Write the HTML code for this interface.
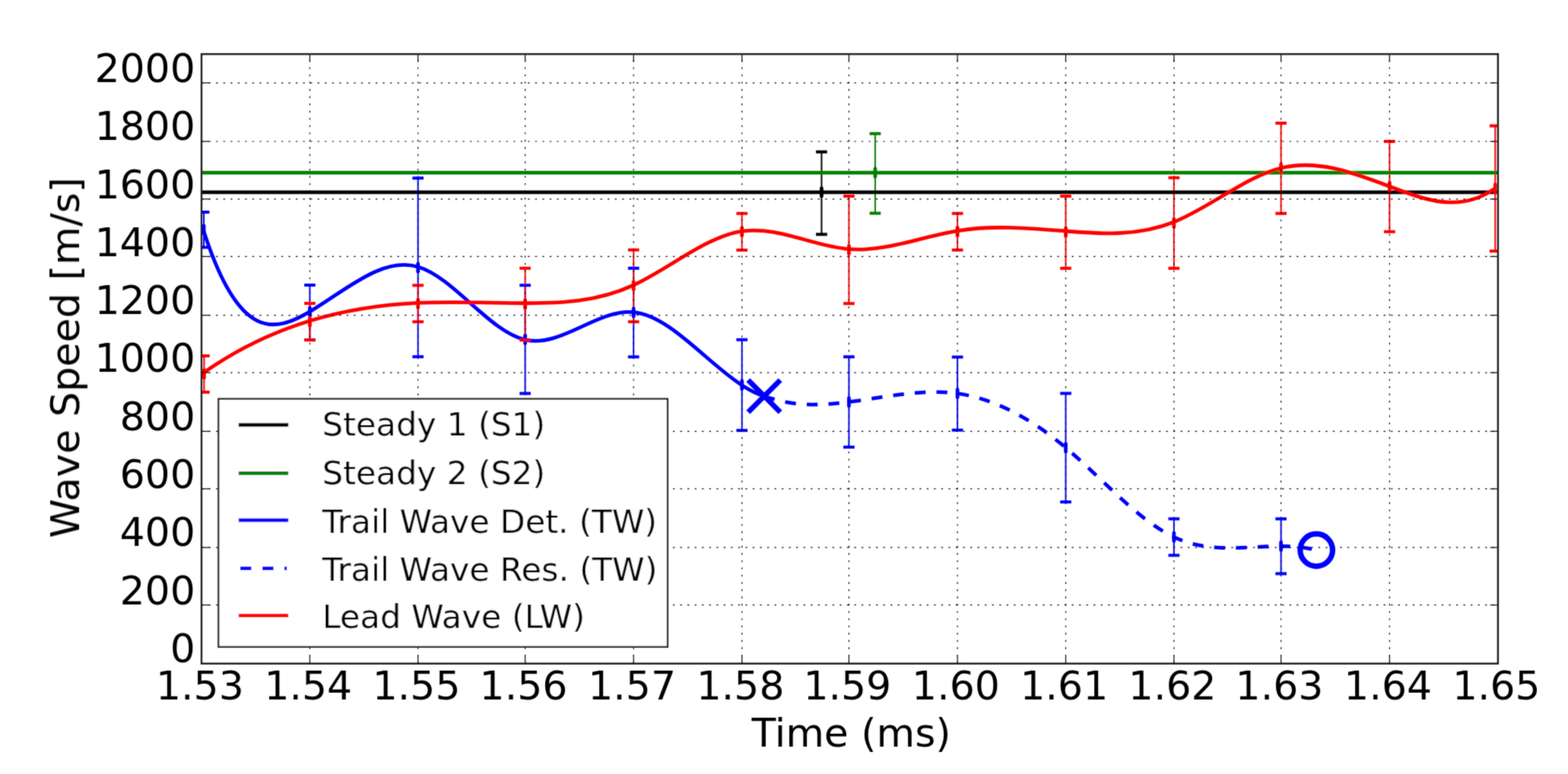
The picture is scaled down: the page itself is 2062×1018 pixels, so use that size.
<!DOCTYPE html><html><head><meta charset="utf-8"><style>html,body{margin:0;padding:0;background:#fff;}svg{display:block;}</style></head><body>
<svg width="2062" height="1018" viewBox="0 0 2062 1018">
<rect width="2062" height="1018" fill="#fff"/>
<defs><clipPath id="ax"><rect x="265.0" y="71.15" width="1704.90" height="801.65"/></clipPath><filter id="soft" x="0" y="0" width="2062" height="1018" filterUnits="userSpaceOnUse"><feConvolveMatrix order="3" kernelMatrix="0.02768 0.11101 0.02768 0.11101 0.44521 0.11101 0.02768 0.11101 0.02768" divisor="1" edgeMode="duplicate"/></filter></defs>
<g filter="url(#soft)">
<g clip-path="url(#ax)" fill="none" stroke-linejoin="round">
<line x1="1080.4" y1="199.8" x2="1080.4" y2="308.3" stroke="#000" stroke-width="2.0"/>
<line x1="1150.9" y1="175.8" x2="1150.9" y2="280.6" stroke="#008000" stroke-width="2.0"/>
<line x1="268.06" y1="278.9" x2="268.06" y2="325.3" stroke="#00f" stroke-width="2.0"/>
<line x1="407.45" y1="375.0" x2="407.45" y2="447.0" stroke="#00f" stroke-width="2.0"/>
<line x1="549.7" y1="234.3" x2="549.7" y2="469.2" stroke="#00f" stroke-width="2.0"/>
<line x1="690.6" y1="375.2" x2="690.6" y2="517.5" stroke="#00f" stroke-width="2.0"/>
<line x1="833.2" y1="352.8" x2="833.2" y2="469.4" stroke="#00f" stroke-width="2.0"/>
<line x1="975.7" y1="446.8" x2="975.7" y2="566.1" stroke="#00f" stroke-width="2.0"/>
<line x1="1116.4" y1="469.3" x2="1116.4" y2="588.1" stroke="#00f" stroke-width="2.0"/>
<line x1="1259.1" y1="469.6" x2="1259.1" y2="565.7" stroke="#00f" stroke-width="2.0"/>
<line x1="1401.5" y1="517.4" x2="1401.5" y2="660.2" stroke="#00f" stroke-width="2.0"/>
<line x1="1543.8" y1="682.4" x2="1543.8" y2="730.4" stroke="#00f" stroke-width="2.0"/>
<line x1="1684.6" y1="682.4" x2="1684.6" y2="754.5" stroke="#00f" stroke-width="2.0"/>
<line x1="268.4" y1="468.06" x2="268.4" y2="515.8" stroke="#f00" stroke-width="2.0"/>
<line x1="407.45" y1="399.0" x2="407.45" y2="447.2" stroke="#f00" stroke-width="2.0"/>
<line x1="549.7" y1="375.3" x2="549.7" y2="423.2" stroke="#f00" stroke-width="2.0"/>
<line x1="690.6" y1="352.8" x2="690.6" y2="447.3" stroke="#f00" stroke-width="2.0"/>
<line x1="833.2" y1="328.7" x2="833.2" y2="423.2" stroke="#f00" stroke-width="2.0"/>
<line x1="975.7" y1="280.7" x2="975.7" y2="328.95" stroke="#f00" stroke-width="2.0"/>
<line x1="1116.4" y1="258.1" x2="1116.4" y2="399.2" stroke="#f00" stroke-width="2.0"/>
<line x1="1259.1" y1="280.65" x2="1259.1" y2="328.8" stroke="#f00" stroke-width="2.0"/>
<line x1="1401.5" y1="257.9" x2="1401.5" y2="352.9" stroke="#f00" stroke-width="2.0"/>
<line x1="1543.8" y1="233.8" x2="1543.8" y2="352.9" stroke="#f00" stroke-width="2.0"/>
<line x1="1684.6" y1="161.9" x2="1684.6" y2="280.7" stroke="#f00" stroke-width="2.0"/>
<line x1="1827.35" y1="186.0" x2="1827.35" y2="304.7" stroke="#f00" stroke-width="2.0"/>
<line x1="1966.25" y1="165.6" x2="1966.25" y2="330.2" stroke="#f00" stroke-width="2.0"/>
<line x1="265.0" y1="252.8" x2="1969.9" y2="252.8" stroke="#000" stroke-width="4.8"/>
<line x1="1073.05" y1="199.8" x2="1087.75" y2="199.8" stroke="#000" stroke-width="4.0"/>
<line x1="1073.05" y1="308.3" x2="1087.75" y2="308.3" stroke="#000" stroke-width="4.0"/>
<rect x="1078.00" y="245.20" width="4.8" height="15.2" rx="2.4" fill="#000" stroke="none"/>
<line x1="265.0" y1="227.2" x2="1969.9" y2="227.2" stroke="#008000" stroke-width="4.8"/>
<line x1="1143.55" y1="175.8" x2="1158.25" y2="175.8" stroke="#008000" stroke-width="4.0"/>
<line x1="1143.55" y1="280.6" x2="1158.25" y2="280.6" stroke="#008000" stroke-width="4.0"/>
<rect x="1148.50" y="219.60" width="4.8" height="15.2" rx="2.4" fill="#008000" stroke="none"/>
<path d="M268.06,304.48 C314.52,448.69 360.99,437.30 407.45,409.84 C454.87,381.82 502.28,337.05 549.70,351.01 C596.67,364.84 643.63,436.28 690.60,446.88 C738.13,457.61 785.67,406.03 833.20,410.64 C880.70,415.24 928.20,475.95 975.70,506.67 C985.47,512.99 995.23,518.04 1005.00,521.00" stroke="#00f" stroke-width="4.8"/>
<line x1="260.71" y1="278.9" x2="275.41" y2="278.9" stroke="#00f" stroke-width="4.0"/>
<line x1="260.71" y1="325.3" x2="275.41" y2="325.3" stroke="#00f" stroke-width="4.0"/>
<rect x="265.66" y="294.50" width="4.8" height="15.2" rx="2.4" fill="#00f" stroke="none"/>
<line x1="400.10" y1="375.0" x2="414.80" y2="375.0" stroke="#00f" stroke-width="4.0"/>
<line x1="400.10" y1="447.0" x2="414.80" y2="447.0" stroke="#00f" stroke-width="4.0"/>
<rect x="405.05" y="402.40" width="4.8" height="15.2" rx="2.4" fill="#00f" stroke="none"/>
<line x1="542.35" y1="234.3" x2="557.05" y2="234.3" stroke="#00f" stroke-width="4.0"/>
<line x1="542.35" y1="469.2" x2="557.05" y2="469.2" stroke="#00f" stroke-width="4.0"/>
<rect x="547.30" y="344.40" width="4.8" height="15.2" rx="2.4" fill="#00f" stroke="none"/>
<line x1="683.25" y1="375.2" x2="697.95" y2="375.2" stroke="#00f" stroke-width="4.0"/>
<line x1="683.25" y1="517.5" x2="697.95" y2="517.5" stroke="#00f" stroke-width="4.0"/>
<rect x="688.20" y="438.70" width="4.8" height="15.2" rx="2.4" fill="#00f" stroke="none"/>
<line x1="825.85" y1="352.8" x2="840.55" y2="352.8" stroke="#00f" stroke-width="4.0"/>
<line x1="825.85" y1="469.4" x2="840.55" y2="469.4" stroke="#00f" stroke-width="4.0"/>
<rect x="830.80" y="403.50" width="4.8" height="15.2" rx="2.4" fill="#00f" stroke="none"/>
<line x1="968.35" y1="446.8" x2="983.05" y2="446.8" stroke="#00f" stroke-width="4.0"/>
<line x1="968.35" y1="566.1" x2="983.05" y2="566.1" stroke="#00f" stroke-width="4.0"/>
<rect x="973.30" y="498.80" width="4.8" height="15.2" rx="2.4" fill="#00f" stroke="none"/>
<path d="M983.90,499.90 L1026.10,542.10 M983.90,542.10 L1026.10,499.90" stroke="#00f" stroke-width="7.0"/>
<path d="M1005.00,521.00 C1042.13,534.88 1079.27,533.46 1116.40,528.70 C1163.97,522.60 1211.53,511.02 1259.10,517.60 C1306.57,524.16 1354.03,548.81 1401.50,588.80 C1448.93,628.76 1496.37,684.05 1543.80,706.40 C1590.73,728.51 1637.67,718.37 1684.60,718.40 C1700.10,718.41 1715.60,719.53 1731.10,723.50" stroke="#00f" stroke-width="4.8" stroke-dasharray="14.3 14.3"/>
<line x1="1109.05" y1="469.3" x2="1123.75" y2="469.3" stroke="#00f" stroke-width="4.0"/>
<line x1="1109.05" y1="588.1" x2="1123.75" y2="588.1" stroke="#00f" stroke-width="4.0"/>
<rect x="1114.00" y="521.10" width="4.8" height="15.2" rx="2.4" fill="#00f" stroke="none"/>
<line x1="1251.75" y1="469.6" x2="1266.45" y2="469.6" stroke="#00f" stroke-width="4.0"/>
<line x1="1251.75" y1="565.7" x2="1266.45" y2="565.7" stroke="#00f" stroke-width="4.0"/>
<rect x="1256.70" y="510.00" width="4.8" height="15.2" rx="2.4" fill="#00f" stroke="none"/>
<line x1="1394.15" y1="517.4" x2="1408.85" y2="517.4" stroke="#00f" stroke-width="4.0"/>
<line x1="1394.15" y1="660.2" x2="1408.85" y2="660.2" stroke="#00f" stroke-width="4.0"/>
<rect x="1399.10" y="581.20" width="4.8" height="15.2" rx="2.4" fill="#00f" stroke="none"/>
<line x1="1536.45" y1="682.4" x2="1551.15" y2="682.4" stroke="#00f" stroke-width="4.0"/>
<line x1="1536.45" y1="730.4" x2="1551.15" y2="730.4" stroke="#00f" stroke-width="4.0"/>
<rect x="1541.40" y="698.80" width="4.8" height="15.2" rx="2.4" fill="#00f" stroke="none"/>
<line x1="1677.25" y1="682.4" x2="1691.95" y2="682.4" stroke="#00f" stroke-width="4.0"/>
<line x1="1677.25" y1="754.5" x2="1691.95" y2="754.5" stroke="#00f" stroke-width="4.0"/>
<rect x="1682.20" y="710.80" width="4.8" height="15.2" rx="2.4" fill="#00f" stroke="none"/>
<circle cx="1731.1" cy="723.5" r="21.3" stroke="#00f" stroke-width="7.2" fill="none"/>
<path d="M268.40,489.83 C314.75,457.33 361.10,436.13 407.45,422.05 C454.87,407.65 502.28,400.69 549.70,398.43 C596.67,396.19 643.63,398.55 690.60,398.76 C738.13,398.97 785.67,396.97 833.20,375.04 C880.70,353.12 928.20,311.29 975.70,304.18 C1022.60,297.16 1069.50,323.98 1116.40,327.67 C1163.97,331.41 1211.53,311.37 1259.10,303.57 C1306.57,295.79 1354.03,300.20 1401.50,303.99 C1448.93,307.78 1496.37,310.95 1543.80,291.95 C1590.73,273.15 1637.67,232.64 1684.60,220.99 C1732.18,209.18 1779.77,227.02 1827.35,245.17 C1873.65,262.83 1919.95,280.78 1966.25,247.60" stroke="#f00" stroke-width="4.8"/>
<line x1="261.05" y1="468.06" x2="275.75" y2="468.06" stroke="#f00" stroke-width="4.0"/>
<line x1="261.05" y1="515.8" x2="275.75" y2="515.8" stroke="#f00" stroke-width="4.0"/>
<rect x="266.00" y="484.30" width="4.8" height="15.2" rx="2.4" fill="#f00" stroke="none"/>
<line x1="400.10" y1="399.0" x2="414.80" y2="399.0" stroke="#f00" stroke-width="4.0"/>
<line x1="400.10" y1="447.2" x2="414.80" y2="447.2" stroke="#f00" stroke-width="4.0"/>
<rect x="405.05" y="415.80" width="4.8" height="15.2" rx="2.4" fill="#f00" stroke="none"/>
<line x1="542.35" y1="375.3" x2="557.05" y2="375.3" stroke="#f00" stroke-width="4.0"/>
<line x1="542.35" y1="423.2" x2="557.05" y2="423.2" stroke="#f00" stroke-width="4.0"/>
<rect x="547.30" y="391.65" width="4.8" height="15.2" rx="2.4" fill="#f00" stroke="none"/>
<line x1="683.25" y1="352.8" x2="697.95" y2="352.8" stroke="#f00" stroke-width="4.0"/>
<line x1="683.25" y1="447.3" x2="697.95" y2="447.3" stroke="#f00" stroke-width="4.0"/>
<rect x="688.20" y="392.40" width="4.8" height="15.2" rx="2.4" fill="#f00" stroke="none"/>
<line x1="825.85" y1="328.7" x2="840.55" y2="328.7" stroke="#f00" stroke-width="4.0"/>
<line x1="825.85" y1="423.2" x2="840.55" y2="423.2" stroke="#f00" stroke-width="4.0"/>
<rect x="830.80" y="368.30" width="4.8" height="15.2" rx="2.4" fill="#f00" stroke="none"/>
<line x1="968.35" y1="280.7" x2="983.05" y2="280.7" stroke="#f00" stroke-width="4.0"/>
<line x1="968.35" y1="328.95" x2="983.05" y2="328.95" stroke="#f00" stroke-width="4.0"/>
<rect x="973.30" y="297.20" width="4.8" height="15.2" rx="2.4" fill="#f00" stroke="none"/>
<line x1="1109.05" y1="258.1" x2="1123.75" y2="258.1" stroke="#f00" stroke-width="4.0"/>
<line x1="1109.05" y1="399.2" x2="1123.75" y2="399.2" stroke="#f00" stroke-width="4.0"/>
<rect x="1114.00" y="321.00" width="4.8" height="15.2" rx="2.4" fill="#f00" stroke="none"/>
<line x1="1251.75" y1="280.65" x2="1266.45" y2="280.65" stroke="#f00" stroke-width="4.0"/>
<line x1="1251.75" y1="328.8" x2="1266.45" y2="328.8" stroke="#f00" stroke-width="4.0"/>
<rect x="1256.70" y="297.10" width="4.8" height="15.2" rx="2.4" fill="#f00" stroke="none"/>
<line x1="1394.15" y1="257.9" x2="1408.85" y2="257.9" stroke="#f00" stroke-width="4.0"/>
<line x1="1394.15" y1="352.9" x2="1408.85" y2="352.9" stroke="#f00" stroke-width="4.0"/>
<rect x="1399.10" y="297.80" width="4.8" height="15.2" rx="2.4" fill="#f00" stroke="none"/>
<line x1="1536.45" y1="233.8" x2="1551.15" y2="233.8" stroke="#f00" stroke-width="4.0"/>
<line x1="1536.45" y1="352.9" x2="1551.15" y2="352.9" stroke="#f00" stroke-width="4.0"/>
<rect x="1541.40" y="285.75" width="4.8" height="15.2" rx="2.4" fill="#f00" stroke="none"/>
<line x1="1677.25" y1="161.9" x2="1691.95" y2="161.9" stroke="#f00" stroke-width="4.0"/>
<line x1="1677.25" y1="280.7" x2="1691.95" y2="280.7" stroke="#f00" stroke-width="4.0"/>
<rect x="1682.20" y="213.70" width="4.8" height="15.2" rx="2.4" fill="#f00" stroke="none"/>
<line x1="1820.00" y1="186.0" x2="1834.70" y2="186.0" stroke="#f00" stroke-width="4.0"/>
<line x1="1820.00" y1="304.7" x2="1834.70" y2="304.7" stroke="#f00" stroke-width="4.0"/>
<rect x="1824.95" y="237.75" width="4.8" height="15.2" rx="2.4" fill="#f00" stroke="none"/>
<line x1="1958.90" y1="165.6" x2="1973.60" y2="165.6" stroke="#f00" stroke-width="4.0"/>
<line x1="1958.90" y1="330.2" x2="1973.60" y2="330.2" stroke="#f00" stroke-width="4.0"/>
<rect x="1963.85" y="240.30" width="4.8" height="15.2" rx="2.4" fill="#f00" stroke="none"/>
</g>
<g stroke="#000" stroke-width="1.2" stroke-dasharray="2.384 7.153" fill="none">
<line x1="407.45" y1="872.8" x2="407.45" y2="71.15"/>
<line x1="549.7" y1="872.8" x2="549.7" y2="71.15"/>
<line x1="690.6" y1="872.8" x2="690.6" y2="71.15"/>
<line x1="833.2" y1="872.8" x2="833.2" y2="71.15"/>
<line x1="975.7" y1="872.8" x2="975.7" y2="71.15"/>
<line x1="1116.4" y1="872.8" x2="1116.4" y2="71.15"/>
<line x1="1259.1" y1="872.8" x2="1259.1" y2="71.15"/>
<line x1="1401.5" y1="872.8" x2="1401.5" y2="71.15"/>
<line x1="1543.8" y1="872.8" x2="1543.8" y2="71.15"/>
<line x1="1684.6" y1="872.8" x2="1684.6" y2="71.15"/>
<line x1="1827.35" y1="872.8" x2="1827.35" y2="71.15"/>
<line x1="265.0" y1="109.05" x2="1969.9" y2="109.05"/>
<line x1="265.0" y1="186.00" x2="1969.9" y2="186.00"/>
<line x1="265.0" y1="261.80" x2="1969.9" y2="261.80"/>
<line x1="265.0" y1="337.40" x2="1969.9" y2="337.40"/>
<line x1="265.0" y1="414.60" x2="1969.9" y2="414.60"/>
<line x1="265.0" y1="490.10" x2="1969.9" y2="490.10"/>
<line x1="265.0" y1="567.30" x2="1969.9" y2="567.30"/>
<line x1="265.0" y1="642.90" x2="1969.9" y2="642.90"/>
<line x1="265.0" y1="720.10" x2="1969.9" y2="720.10"/>
<line x1="265.0" y1="795.70" x2="1969.9" y2="795.70"/>
</g>
<g stroke="#000" stroke-width="1.2">
<line x1="265.0" y1="872.8" x2="265.0" y2="862.4"/><line x1="265.0" y1="71.15" x2="265.0" y2="81.55000000000001"/>
<line x1="407.45" y1="872.8" x2="407.45" y2="862.4"/><line x1="407.45" y1="71.15" x2="407.45" y2="81.55000000000001"/>
<line x1="549.7" y1="872.8" x2="549.7" y2="862.4"/><line x1="549.7" y1="71.15" x2="549.7" y2="81.55000000000001"/>
<line x1="690.6" y1="872.8" x2="690.6" y2="862.4"/><line x1="690.6" y1="71.15" x2="690.6" y2="81.55000000000001"/>
<line x1="833.2" y1="872.8" x2="833.2" y2="862.4"/><line x1="833.2" y1="71.15" x2="833.2" y2="81.55000000000001"/>
<line x1="975.7" y1="872.8" x2="975.7" y2="862.4"/><line x1="975.7" y1="71.15" x2="975.7" y2="81.55000000000001"/>
<line x1="1116.4" y1="872.8" x2="1116.4" y2="862.4"/><line x1="1116.4" y1="71.15" x2="1116.4" y2="81.55000000000001"/>
<line x1="1259.1" y1="872.8" x2="1259.1" y2="862.4"/><line x1="1259.1" y1="71.15" x2="1259.1" y2="81.55000000000001"/>
<line x1="1401.5" y1="872.8" x2="1401.5" y2="862.4"/><line x1="1401.5" y1="71.15" x2="1401.5" y2="81.55000000000001"/>
<line x1="1543.8" y1="872.8" x2="1543.8" y2="862.4"/><line x1="1543.8" y1="71.15" x2="1543.8" y2="81.55000000000001"/>
<line x1="1684.6" y1="872.8" x2="1684.6" y2="862.4"/><line x1="1684.6" y1="71.15" x2="1684.6" y2="81.55000000000001"/>
<line x1="1827.35" y1="872.8" x2="1827.35" y2="862.4"/><line x1="1827.35" y1="71.15" x2="1827.35" y2="81.55000000000001"/>
<line x1="1969.9" y1="872.8" x2="1969.9" y2="862.4"/><line x1="1969.9" y1="71.15" x2="1969.9" y2="81.55000000000001"/>
<line x1="265.0" y1="109.05" x2="275.4" y2="109.05"/><line x1="1969.9" y1="109.05" x2="1959.5" y2="109.05"/>
<line x1="265.0" y1="186.00" x2="275.4" y2="186.00"/><line x1="1969.9" y1="186.00" x2="1959.5" y2="186.00"/>
<line x1="265.0" y1="261.80" x2="275.4" y2="261.80"/><line x1="1969.9" y1="261.80" x2="1959.5" y2="261.80"/>
<line x1="265.0" y1="337.40" x2="275.4" y2="337.40"/><line x1="1969.9" y1="337.40" x2="1959.5" y2="337.40"/>
<line x1="265.0" y1="414.60" x2="275.4" y2="414.60"/><line x1="1969.9" y1="414.60" x2="1959.5" y2="414.60"/>
<line x1="265.0" y1="490.10" x2="275.4" y2="490.10"/><line x1="1969.9" y1="490.10" x2="1959.5" y2="490.10"/>
<line x1="265.0" y1="567.30" x2="275.4" y2="567.30"/><line x1="1969.9" y1="567.30" x2="1959.5" y2="567.30"/>
<line x1="265.0" y1="642.90" x2="275.4" y2="642.90"/><line x1="1969.9" y1="642.90" x2="1959.5" y2="642.90"/>
<line x1="265.0" y1="720.10" x2="275.4" y2="720.10"/><line x1="1969.9" y1="720.10" x2="1959.5" y2="720.10"/>
<line x1="265.0" y1="795.70" x2="275.4" y2="795.70"/><line x1="1969.9" y1="795.70" x2="1959.5" y2="795.70"/>
<line x1="265.0" y1="872.80" x2="275.4" y2="872.80"/><line x1="1969.9" y1="872.80" x2="1959.5" y2="872.80"/>
</g>
<rect x="265.0" y="71.15" width="1704.9" height="801.65" fill="none" stroke="#1e1e1e" stroke-width="2.4"/>
<g font-family="'DejaVu Sans', 'Liberation Sans', sans-serif" font-size="52.0" fill="#000">
<text x="262.9" y="919.6" text-anchor="middle">1.53</text>
<text x="405.3" y="919.6" text-anchor="middle">1.54</text>
<text x="547.6" y="919.6" text-anchor="middle">1.55</text>
<text x="688.5" y="919.6" text-anchor="middle">1.56</text>
<text x="831.1" y="919.6" text-anchor="middle">1.57</text>
<text x="973.6" y="919.6" text-anchor="middle">1.58</text>
<text x="1114.3" y="919.6" text-anchor="middle">1.59</text>
<text x="1257.0" y="919.6" text-anchor="middle">1.60</text>
<text x="1399.4" y="919.6" text-anchor="middle">1.61</text>
<text x="1541.7" y="919.6" text-anchor="middle">1.62</text>
<text x="1682.5" y="919.6" text-anchor="middle">1.63</text>
<text x="1825.2" y="919.6" text-anchor="middle">1.64</text>
<text x="1967.8" y="919.6" text-anchor="middle">1.65</text>
<text x="256.8" y="107.96" text-anchor="end">2000</text>
<text x="256.8" y="184.26" text-anchor="end">1800</text>
<text x="256.8" y="260.56" text-anchor="end">1600</text>
<text x="256.8" y="336.85" text-anchor="end">1400</text>
<text x="256.8" y="413.15" text-anchor="end">1200</text>
<text x="256.8" y="489.45" text-anchor="end">1000</text>
<text x="256.8" y="565.75" text-anchor="end">800</text>
<text x="256.8" y="642.05" text-anchor="end">600</text>
<text x="256.8" y="718.34" text-anchor="end">400</text>
<text x="256.8" y="794.64" text-anchor="end">200</text>
<text x="256.8" y="870.94" text-anchor="end">0</text>
<text x="1119.6" y="982.0" text-anchor="middle">Time (ms)</text>
<text transform="translate(104.0,470.4) rotate(-90)" x="0" y="0" text-anchor="middle">Wave Speed [m/s]</text>
</g>
<rect x="287.3" y="524.6" width="590.6" height="326.2" fill="#fff" stroke="#1e1e1e" stroke-width="2.2"/>
<line x1="313.8" y1="558.8" x2="379.2" y2="558.8" stroke="#000" stroke-width="4.8"/>
<text x="423.8" y="573.3" font-family="'DejaVu Sans', 'Liberation Sans', sans-serif" font-size="43.1" fill="#000">Steady 1 (S1)</text>
<line x1="313.8" y1="622.3" x2="379.2" y2="622.3" stroke="#008000" stroke-width="4.8"/>
<text x="423.8" y="637.0" font-family="'DejaVu Sans', 'Liberation Sans', sans-serif" font-size="43.1" fill="#000">Steady 2 (S2)</text>
<line x1="313.8" y1="684.2" x2="379.2" y2="684.2" stroke="#00f" stroke-width="4.8"/>
<text x="423.8" y="701.0" font-family="'DejaVu Sans', 'Liberation Sans', sans-serif" font-size="43.1" fill="#000">Trail Wave Det. (TW)</text>
<line x1="315.9" y1="747.6" x2="330.5" y2="747.6" stroke="#00f" stroke-width="4.8"/>
<line x1="345.1" y1="747.6" x2="359.6" y2="747.6" stroke="#00f" stroke-width="4.8"/>
<line x1="373.9" y1="747.6" x2="377.2" y2="747.6" stroke="#00f" stroke-width="4.8"/>
<text x="423.8" y="764.2" font-family="'DejaVu Sans', 'Liberation Sans', sans-serif" font-size="43.1" fill="#000">Trail Wave Res. (TW)</text>
<line x1="313.8" y1="809.7" x2="379.2" y2="809.7" stroke="#f00" stroke-width="4.8"/>
<text x="423.8" y="825.9" font-family="'DejaVu Sans', 'Liberation Sans', sans-serif" font-size="43.1" fill="#000">Lead Wave (LW)</text>
</g></svg></body></html>
